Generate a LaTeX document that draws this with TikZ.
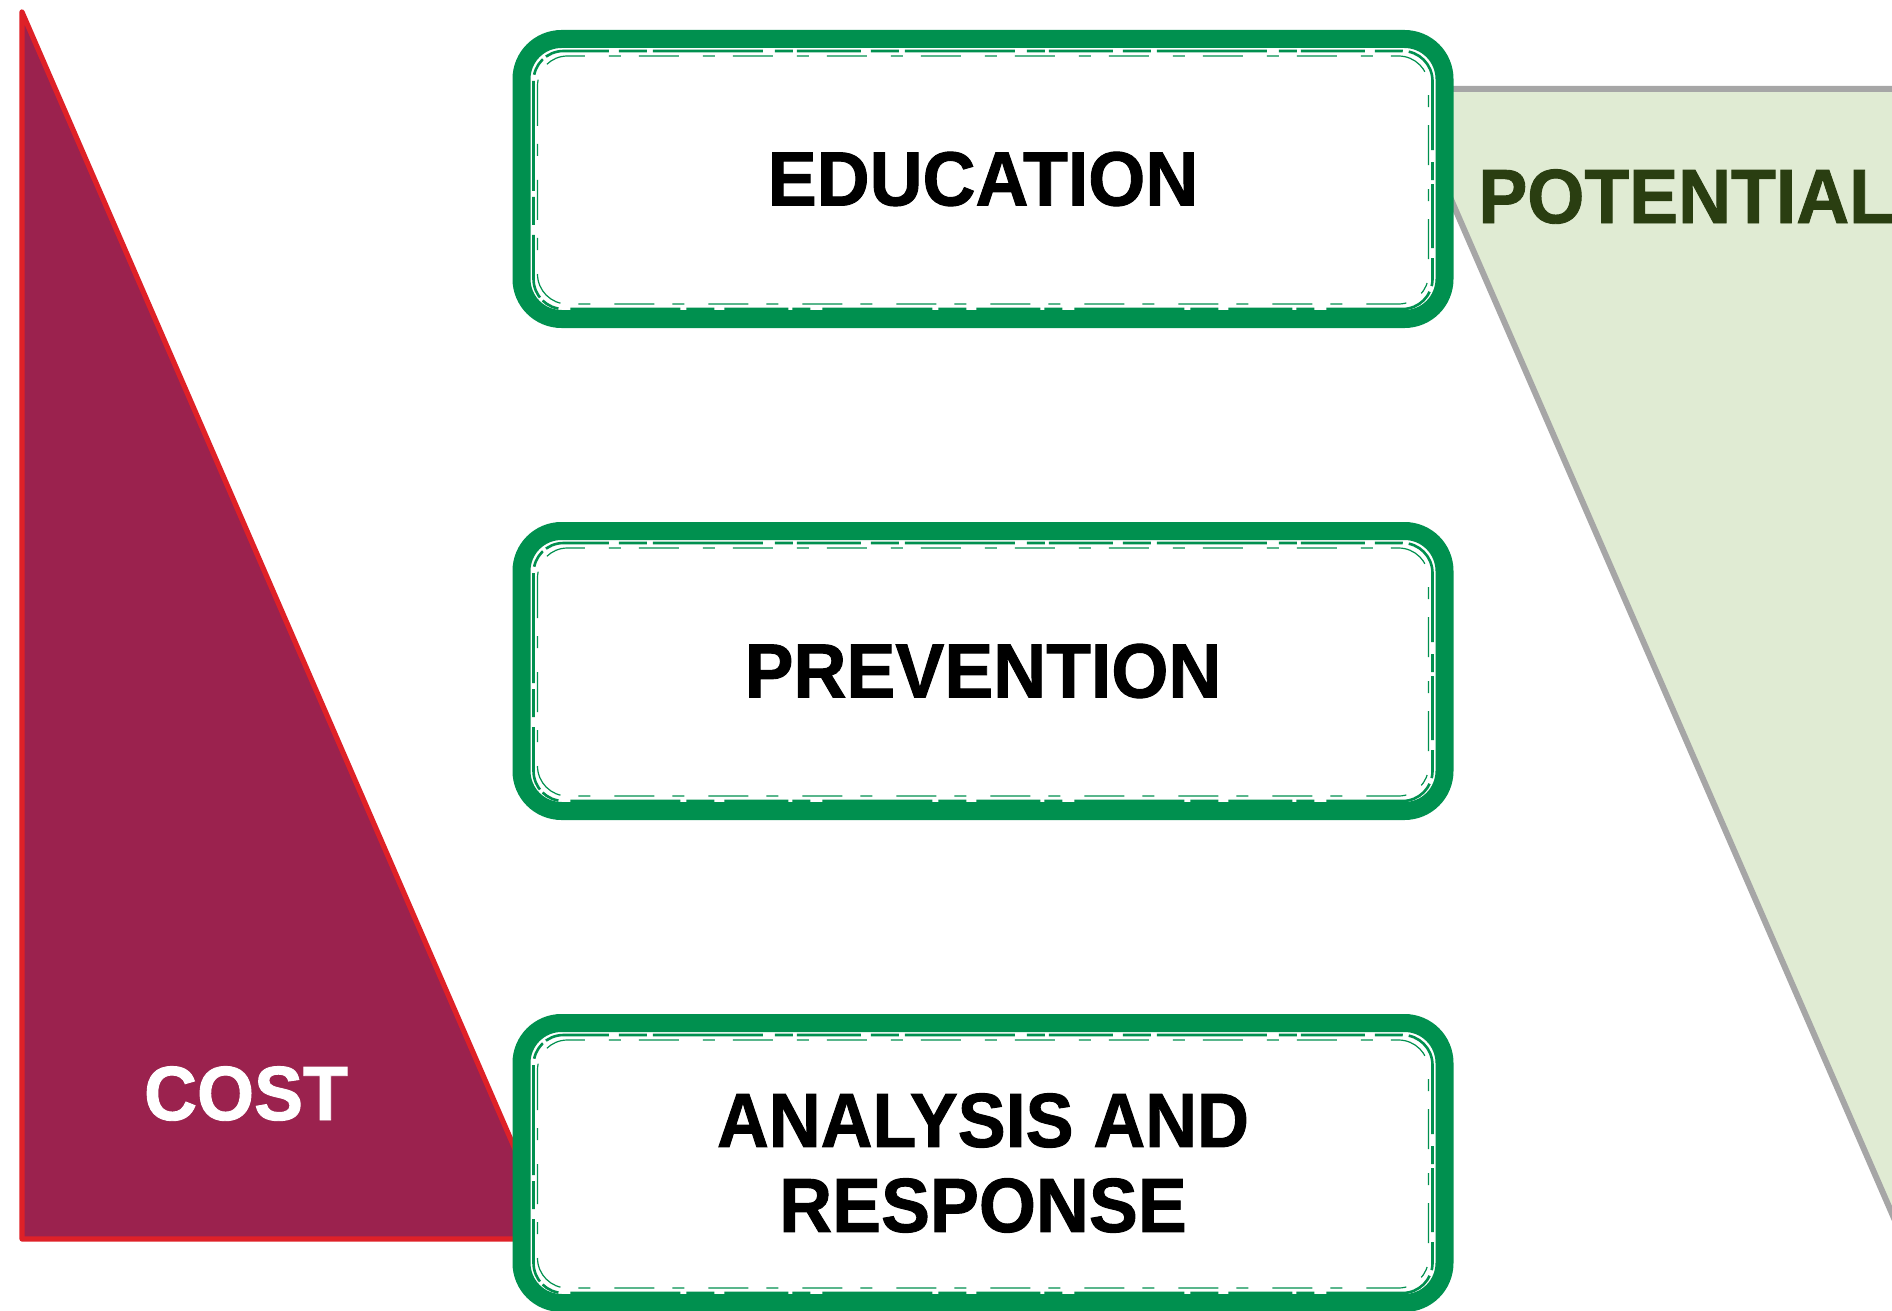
\documentclass[tikz,border=0pt]{standalone}
\usepackage{fontspec}
\usetikzlibrary{positioning}
\setmainfont{Liberation Sans}
\newfontfamily\labelfont[FakeStretch=0.955,FakeBold=1.2]{Liberation Sans}
\newfontfamily\narrowfont[FakeStretch=0.935,FakeBold=1.2]{Liberation Sans}
\definecolor{costfill}{RGB}{155,34,78}
\definecolor{costline}{RGB}{222,33,40}
\definecolor{brushgreen}{RGB}{0,144,79}
\definecolor{potfill}{RGB}{224,235,211}
\definecolor{potline}{RGB}{166,166,166}
\definecolor{pottext}{RGB}{42,62,17}
\begin{document}
\begin{tikzpicture}
    [
      x=0.5pt,
      y=-0.5pt,
      brushbox/.style=
      {
        align=center,
        inner sep=0pt,
        minimum height=140pt,
        minimum width=461.5pt,
        rounded corners=20pt,
        fill=white,
        draw=brushgreen,
        line width=9pt,
        text=black,
        font=\labelfont\bfseries\fontsize{38.4pt}{42.5pt}\selectfont
      },
      brushline/.style=
      {
        draw=brushgreen,
        line width=1.3pt,
        rounded corners=15pt,
        dash pattern=on 55pt off 3pt on 14pt off 5pt on 32pt off 2pt on 9pt off 6pt
      },
      txt/.style=
      {
        inner sep=0pt,
        font=\labelfont\bfseries\fontsize{38.4pt}{42.5pt}\selectfont
      }
    ]
    \useasboundingbox (0,0) rectangle (1892,1311);
    % cost wedge
    \filldraw[fill=costfill, draw=costline, line width=2.6pt, line join=round]
      (22,12) -- (22,1239) -- (554,1239) -- cycle;
    \node[txt, text=white, anchor=base] (Cost) at (246,1120) {COST};
    % potential wedge
    \fill[potfill] (1403,89) -- (1940,89) -- (1940,1324) -- cycle;
    \draw[potline, line width=3pt] (1940,89) -- (1403,89) -- (1940,1324);
    \node[txt, text=pottext, anchor=base west] (Potential) at (1478,223) {POTENTIAL};
    % the three boxes
    \node[brushbox] (Education) at (983,179) {EDUCATION};
    \node[brushbox, below of=Education, node distance=246pt] (Prevention) {PREVENTION};
    \node[brushbox, below of=Prevention, node distance=246pt] (Analysis)
      {{\narrowfont\bfseries ANALYSIS AND}\\RESPONSE};
    \foreach \b in {Education,Prevention,Analysis}
    {
      \draw[brushline] ([shift={(21,21)}]\b.north west) rectangle ([shift={(-21,-19)}]\b.south east);
      \draw[brushline, line width=0.8pt, dash phase=20pt] ([shift={(15,14)}]\b.north west) rectangle ([shift={(-15,-13)}]\b.south east);
      \draw[brushline, line width=0.6pt, dash pattern=on 20pt off 9pt on 6pt off 12pt] ([shift={(25,26)}]\b.north west) rectangle ([shift={(-25,-24)}]\b.south east);
    }
  \end{tikzpicture}
\end{document}
